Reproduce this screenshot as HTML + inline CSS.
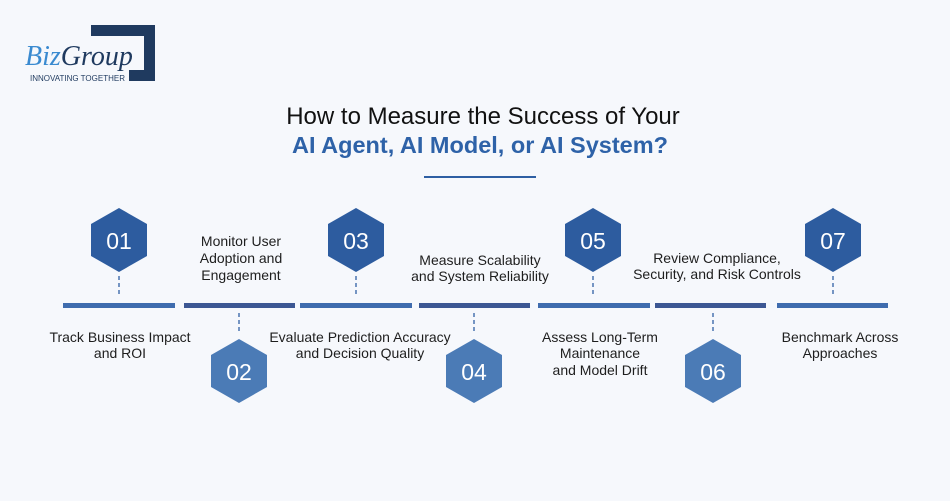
<!DOCTYPE html>
<html><head><meta charset="utf-8"><style>
html,body{margin:0;padding:0;background:#f6f8fc;}
svg{display:block;font-family:"Liberation Sans",sans-serif;}
</style></head><body>
<svg width="950" height="501" viewBox="0 0 950 501" xmlns="http://www.w3.org/2000/svg">
<rect width="950" height="501" fill="#f6f8fc"/>
<path d="M91 25 H155 V81 H129 V70 H144 V36 H91 Z" fill="#1f3a5f"/>
<text x="25" y="65" font-family="Liberation Serif,serif" font-style="italic" font-size="28" fill="#3a8ad0">Biz<tspan fill="#1f3a5f">Group</tspan></text>
<text x="30" y="81" font-size="8" fill="#1f3a5f">INNOVATING TOGETHER</text>
<text x="483" y="124" text-anchor="middle" font-size="24" fill="#111">How to Measure the Success of Your</text>
<text x="480" y="153" text-anchor="middle" font-size="23.5" font-weight="bold" fill="#2e62a8">AI Agent, AI Model, or AI System?</text>
<rect x="424" y="176" width="112" height="2" fill="#2e5fa3"/>
<g>
<rect x="63" y="303" width="112" height="5" fill="#3f6cae"/>
<rect x="184" y="303" width="111" height="5" fill="#3c5793"/>
<rect x="300" y="303" width="112" height="5" fill="#3f6cae"/>
<rect x="419" y="303" width="111" height="5" fill="#3c5793"/>
<rect x="538" y="303" width="112" height="5" fill="#3f6cae"/>
<rect x="655" y="303" width="111" height="5" fill="#3c5793"/>
<rect x="777" y="303" width="111" height="5" fill="#3f6cae"/>
</g>
<g stroke="#4a74b0" stroke-width="1.5" stroke-dasharray="4,3">
<line x1="119" y1="276" x2="119" y2="297"/>
<line x1="356" y1="276" x2="356" y2="297"/>
<line x1="593" y1="276" x2="593" y2="297"/>
<line x1="833" y1="276" x2="833" y2="297"/>
<line x1="239" y1="313" x2="239" y2="334"/>
<line x1="474" y1="313" x2="474" y2="334"/>
<line x1="713" y1="313" x2="713" y2="334"/>
</g>
<g>
<polygon points="119,208 147,224 147,256 119,272 91,256 91,224" fill="#2d5c9f"/>
<polygon points="356,208 384,224 384,256 356,272 328,256 328,224" fill="#2d5c9f"/>
<polygon points="593,208 621,224 621,256 593,272 565,256 565,224" fill="#2d5c9f"/>
<polygon points="833,208 861,224 861,256 833,272 805,256 805,224" fill="#2d5c9f"/>
<polygon points="239,339 267,355 267,387 239,403 211,387 211,355" fill="#4b7bb6"/>
<polygon points="474,339 502,355 502,387 474,403 446,387 446,355" fill="#4b7bb6"/>
<polygon points="713,339 741,355 741,387 713,403 685,387 685,355" fill="#4b7bb6"/>
</g>
<g fill="#fff" font-size="23" text-anchor="middle">
<text x="119" y="249">01</text><text x="356" y="249">03</text><text x="593" y="249">05</text><text x="833" y="249">07</text>
<text x="239" y="380">02</text><text x="474" y="380">04</text><text x="713" y="380">06</text>
</g>
<g font-size="14" fill="#1e1e1e" text-anchor="middle">
<text x="120" y="342">Track Business Impact</text><text x="120" y="358">and ROI</text>
<text x="241" y="246">Monitor User</text><text x="241" y="263">Adoption and</text><text x="241" y="280">Engagement</text>
<text x="360" y="342">Evaluate Prediction Accuracy</text><text x="360" y="358">and Decision Quality</text>
<text x="480" y="265">Measure Scalability</text><text x="480" y="281">and System Reliability</text>
<text x="600" y="342">Assess Long-Term</text><text x="600" y="358">Maintenance</text><text x="600" y="375">and Model Drift</text>
<text x="717" y="263">Review Compliance,</text><text x="717" y="279">Security, and Risk Controls</text>
<text x="840" y="342">Benchmark Across</text><text x="840" y="358">Approaches</text>
</g>
</svg>
</body></html>
